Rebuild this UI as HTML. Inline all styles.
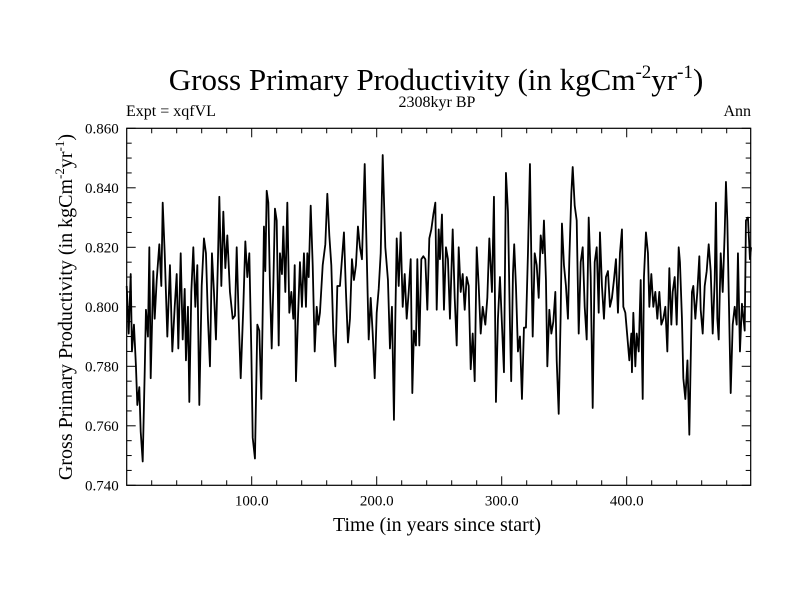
<!DOCTYPE html>
<html><head><meta charset="utf-8"><style>
html,body{margin:0;padding:0;background:#fff;}
svg text{font-family:"Liberation Serif",serif;fill:#000;}
</style></head><body>
<svg id="chart" width="800" height="600" viewBox="0 0 800 600" xmlns="http://www.w3.org/2000/svg">
<rect width="800" height="600" fill="#fff"/>
<text x="436" y="90" font-size="31" text-anchor="middle">Gross Primary Productivity (in kgCm<tspan font-size="19" dy="-12">-2</tspan><tspan dy="12">yr</tspan><tspan font-size="19" dy="-12">-1</tspan><tspan dy="12">)</tspan></text>
<text x="126" y="116" font-size="16">Expt = xqfVL</text>
<text x="437" y="107" font-size="16" text-anchor="middle">2308kyr BP</text>
<text x="751" y="116" font-size="16" text-anchor="end">Ann</text>
<text x="437" y="531" font-size="20" text-anchor="middle">Time (in years since start)</text>
<text transform="translate(72,307) rotate(-90)" font-size="20" text-anchor="middle">Gross Primary Productivity (in kgCm<tspan font-size="13" dy="-8">-2</tspan><tspan dy="8">yr</tspan><tspan font-size="13" dy="-8">-1</tspan><tspan dy="8">)</tspan></text>
<g id="axes"></g>
<g id="series"></g>
<rect x="126.7" y="128.3" width="624" height="357" fill="none" stroke="#000" stroke-width="1.2"/>
</svg>
<script>
const years=[0,1.6,3.2,4.2,5.8,7.4,8.5,10.1,11.2,12.8,14.4,15.4,17,18.1,19.2,21.3,22.4,24,26.1,27.7,28.8,30.4,32.5,34.6,36.5,38.4,40,41.3,43.2,44.8,46.4,47.4,49,50.1,51.7,53.3,54.9,56.5,58.1,60,61.8,63.4,65,66.6,68.2,69.8,71.4,73,74.1,75.7,77.3,78.9,80.5,82.6,84.8,86.6,88,89.6,91.2,93.3,94.9,96.5,98.1,99.7,100.8,102.6,104.5,106.1,107.7,108.8,109.8,110.9,112,113.3,114.6,116,117.3,118.6,120,121.6,122.6,124.2,125.3,126.9,128.5,130.1,131.7,133.3,134.4,135.4,137,138.6,140.2,141.8,143.4,144.5,145.6,147.2,148.8,150.4,152,153.3,154.6,156.8,158.9,160.5,162.1,163.7,165.3,166.9,168.5,170.6,172.2,173.8,175.4,177,178.6,180.2,181.8,183.4,185,186.6,188.2,190.4,192,193.6,195.2,196.8,198.4,200,201.6,203.2,204.8,206.9,209,210.6,212.2,213.8,214.9,216,217.6,219.2,220.8,222.4,224,225.6,227.2,228.5,229.8,231.4,232.5,234.1,235.7,237.3,238.9,240.5,242.1,243.7,245.3,246.9,248,249.6,250.6,252.2,253.8,255.4,257,258.6,260.8,262.4,264,265.6,267.2,268.8,270.4,272,273.6,275.2,276.8,278.4,280,281.6,283.2,284.8,286.9,288.5,290.1,292.2,293.8,295.4,297,298.6,300.2,301.8,303.4,305,306.6,307.6,309,310,311.4,313,314.6,316.2,317.8,319.4,321,322.6,323.7,324.8,326.4,328,329.6,331.2,332.8,333.8,335.4,336.5,338.1,339.7,341.3,342.9,344,345.6,347.2,348.2,349.8,351.4,353,354.1,355.7,356.8,358.4,360,361.6,363.2,364.8,366.4,368,369.6,371.2,372.8,374.4,376,377.6,378.6,380.2,381.8,383.4,385,386.6,388.2,389.8,391.4,393,394.6,396.2,397.3,398.9,400.5,402.1,403.7,404.2,405.3,406.9,408,409.6,411.2,412.8,413.8,415.4,417,418.1,419.7,421.3,422.9,424.5,426.1,427.7,429.3,430.9,432.5,434.1,435.7,436.8,438.4,440,441.6,442.6,444.2,445.3,446.9,448.6,450.1,451.2,452.2,453.3,454.9,456.5,458.1,459.2,460.8,462.4,464,465.6,467.2,468.8,470.4,471.4,472.5,473.6,475.2,476.8,478.4,479.4,480.5,481.6,483.2,484.8,486.4,488,489,490.6,492.2,494.4,495.4,497,498.6,499.5];
const gpp=[0.807,0.791,0.811,0.785,0.794,0.780,0.767,0.773,0.758,0.748,0.778,0.799,0.790,0.820,0.776,0.812,0.796,0.809,0.821,0.807,0.835,0.818,0.790,0.814,0.785,0.800,0.811,0.786,0.818,0.789,0.806,0.782,0.800,0.768,0.805,0.820,0.800,0.814,0.767,0.807,0.823,0.818,0.796,0.780,0.818,0.805,0.789,0.816,0.837,0.807,0.832,0.813,0.824,0.805,0.796,0.797,0.820,0.796,0.776,0.800,0.822,0.810,0.818,0.785,0.756,0.749,0.794,0.792,0.769,0.798,0.827,0.812,0.839,0.835,0.807,0.786,0.807,0.833,0.829,0.787,0.818,0.811,0.827,0.805,0.835,0.798,0.805,0.796,0.814,0.775,0.796,0.815,0.800,0.818,0.800,0.818,0.810,0.834,0.814,0.785,0.800,0.794,0.798,0.814,0.821,0.838,0.824,0.814,0.791,0.780,0.807,0.807,0.816,0.825,0.805,0.788,0.796,0.816,0.809,0.814,0.827,0.820,0.816,0.848,0.818,0.789,0.803,0.791,0.776,0.798,0.806,0.818,0.851,0.820,0.809,0.786,0.800,0.762,0.796,0.823,0.807,0.825,0.800,0.811,0.796,0.805,0.816,0.771,0.792,0.787,0.816,0.787,0.816,0.817,0.816,0.799,0.823,0.826,0.831,0.835,0.799,0.826,0.816,0.831,0.799,0.820,0.816,0.796,0.826,0.803,0.787,0.820,0.805,0.811,0.799,0.810,0.807,0.779,0.791,0.775,0.820,0.807,0.791,0.800,0.794,0.803,0.823,0.805,0.837,0.768,0.796,0.810,0.794,0.778,0.845,0.832,0.794,0.775,0.811,0.821,0.807,0.785,0.790,0.769,0.793,0.793,0.818,0.848,0.816,0.790,0.818,0.814,0.803,0.824,0.818,0.829,0.809,0.780,0.799,0.791,0.795,0.805,0.782,0.764,0.798,0.828,0.814,0.807,0.796,0.816,0.838,0.847,0.834,0.829,0.791,0.815,0.820,0.800,0.789,0.830,0.810,0.766,0.815,0.820,0.798,0.825,0.807,0.796,0.810,0.812,0.800,0.803,0.809,0.816,0.798,0.818,0.826,0.800,0.798,0.790,0.782,0.791,0.778,0.798,0.780,0.791,0.785,0.809,0.769,0.810,0.825,0.818,0.800,0.811,0.800,0.805,0.796,0.805,0.794,0.796,0.800,0.785,0.813,0.794,0.805,0.810,0.794,0.820,0.815,0.796,0.776,0.769,0.782,0.757,0.782,0.805,0.807,0.796,0.805,0.817,0.799,0.791,0.807,0.812,0.821,0.812,0.791,0.809,0.835,0.796,0.789,0.818,0.805,0.825,0.842,0.829,0.805,0.771,0.794,0.800,0.794,0.818,0.785,0.801,0.792,0.829,0.830,0.816,0.820];
const xTickValues=[100,200,300,400];
const xTickLabels=["100.0","200.0","300.0","400.0"];
const yTickValues=[0.74,0.76,0.78,0.80,0.82,0.84,0.86];
const yTickLabels=["0.740","0.760","0.780","0.800","0.820","0.840","0.860"];
const NS="http://www.w3.org/2000/svg";
const L=126.7,R=750.7,T=128.3,B=485.3;
const X0=0,X1=499.2,Y0=0.74,Y1=0.86;
function xs(v){return L+(v-X0)/(X1-X0)*(R-L);}
function ys(v){return B-(v-Y0)/(Y1-Y0)*(B-T);}
const axes=document.getElementById('axes');
function line(x1,y1,x2,y2,name){const l=document.createElementNS(NS,'line');l.setAttribute('x1',x1);l.setAttribute('y1',y1);l.setAttribute('x2',x2);l.setAttribute('y2',y2);l.setAttribute('stroke','#000');l.setAttribute('stroke-width','1');


axes.appendChild(l);}
for(let v=20;v<X1;v+=20){const x=xs(v);const len=(v%100===0)?9:5;line(x,B,x,B-len,'x-tick');line(x,T,x,T+len,'x-tick-top');}
for(let i=0;i<=24;i++){const v=Y0+i*0.005;const y=ys(v);const len=(i%4===0)?9:5;line(L,y,L+len,y,'y-tick');line(R,y,R-len,y,'y-tick-right');}
xTickValues.forEach((v,i)=>{const t=document.createElementNS(NS,'text');t.setAttribute('x',xs(v));t.setAttribute('y',B+20);t.setAttribute('font-size','15');t.setAttribute('text-anchor','middle');t.textContent=xTickLabels[i];


axes.appendChild(t);});
yTickValues.forEach((v,i)=>{const t=document.createElementNS(NS,'text');t.setAttribute('x',L-8);t.setAttribute('y',ys(v)+5);t.setAttribute('font-size','15');t.setAttribute('text-anchor','end');t.textContent=yTickLabels[i];


axes.appendChild(t);});
const p=document.createElementNS(NS,'polyline');
p.setAttribute('points',years.map((yr,i)=>xs(yr).toFixed(2)+','+ys(gpp[i]).toFixed(2)).join(' '));
p.setAttribute('fill','none');p.setAttribute('stroke','#000');p.setAttribute('stroke-width','1.8');p.setAttribute('stroke-linejoin','round');


document.getElementById('series').appendChild(p);
</script>
</body></html>
